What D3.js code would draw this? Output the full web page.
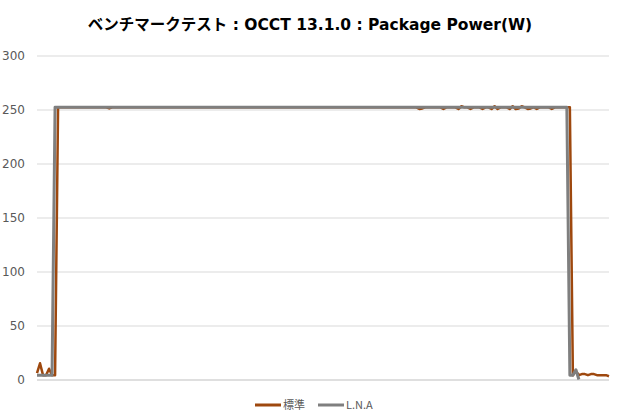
<!DOCTYPE html>
<html>
<head>
<meta charset="utf-8">
<script src="https://cdn.jsdelivr.net/npm/d3@7"></script>
<style>
  body { margin: 0; background: #fff; }
  svg { display: block; font-family: "Noto Sans CJK JP", "Noto Sans", sans-serif; }
</style>
</head>
<body>
<svg id="chart"></svg>
<script>
// values, one sample per category step
const standard = [
  6, 15, 4, 4, 10, 4, 4, 252, 252, 252,
  252, 252, 252, 252, 252, 252, 252, 252, 252, 252,
  252, 252, 252, 252, 251, 252, 252, 252, 252, 252,
  252, 252, 252, 252, 252, 252, 252, 252, 252, 252,
  252, 252, 252, 252, 252, 252, 252, 252, 252, 252,
  252, 252, 252, 252, 252, 252, 252, 252, 252, 252,
  252, 252, 252, 252, 252, 252, 252, 252, 252, 252,
  252, 252, 252, 252, 252, 252, 252, 252, 252, 252,
  252, 252, 252, 252, 252, 252, 252, 252, 252, 252,
  252, 252, 252, 252, 252, 252, 252, 252, 252, 252,
  252, 252, 252, 252, 252, 252, 252, 252, 252, 252,
  252, 252, 252, 252, 252, 252, 252, 252, 252, 252,
  252, 252, 252, 252, 252, 252, 252, 250.5, 251, 252,
  252, 252, 252, 252, 252, 250.5, 252, 252, 252, 252,
  250.5, 253, 252, 252, 250.5, 252, 252, 252, 250.5, 252,
  252, 250.5, 253, 250.5, 252, 252, 252, 250.5, 253, 250.5,
  251, 253, 252, 250.5, 251, 252, 250.5, 252, 252, 252,
  252, 250.5, 252, 252, 252, 252, 252, 252, 4, 8,
  4, 5, 5, 4, 5, 5, 4, 4, 4, 4, 3
];

const lna = [
  4, 4, 4, 4, 4, 4, 252, 252, 252, 252,
  252, 252, 252, 252, 252, 252, 252, 252, 252, 252,
  252, 252, 252, 252, 252, 252, 252, 252, 252, 252,
  252, 252, 252, 252, 252, 252, 252, 252, 252, 252,
  252, 252, 252, 252, 252, 252, 252, 252, 252, 252,
  252, 252, 252, 252, 252, 252, 252, 252, 252, 252,
  252, 252, 252, 252, 252, 252, 252, 252, 252, 252,
  252, 252, 252, 252, 252, 252, 252, 252, 252, 252,
  252, 252, 252, 252, 252, 252, 252, 252, 252, 252,
  252, 252, 252, 252, 252, 252, 252, 252, 252, 252,
  252, 252, 252, 252, 252, 252, 252, 252, 252, 252,
  252, 252, 252, 252, 252, 252, 252, 252, 252, 252,
  252, 252, 252, 252, 252, 252, 252, 252, 252, 252,
  252, 252, 252, 252, 252, 252, 252, 252, 252, 252,
  252, 252, 252, 252, 252, 252, 252, 252, 252, 252,
  252, 252, 252, 252, 252, 252, 252, 252, 252, 252,
  252, 252, 252, 252, 252, 252, 252, 252, 252, 252,
  252, 252, 252, 252, 252, 252, 252, 4, 4, 9,
  0
];

const seriesNames = ["標準", "L.N.A"];
const seriesColors = ["#9e480e", "#7f7f7f"];
const yTicks = [0, 50, 100, 150, 200, 250, 300];
const title = "ベンチマークテスト : OCCT 13.1.0 : Package Power(W)";

const width = 620;
const height = 419;
const margin = { top: 55.5, right: 11, bottom: 39.5, left: 37 };

const svg = d3.select("#chart").attr("width", width).attr("height", height);

const xScale = d3.scaleLinear()
  .domain([0, standard.length - 1])
  .range([margin.left, width - margin.right]);

const yScale = d3.scaleLinear()
  .domain([0, 300])
  .range([height - margin.bottom, margin.top]);

// title
svg.append("text")
  .attr("x", width / 2)
  .attr("y", 30)
  .attr("text-anchor", "middle")
  .attr("font-size", 15.5)
  .attr("font-weight", "bold")
  .attr("font-family", "'DejaVu Sans', 'Noto Sans CJK JP', sans-serif")
  .attr("fill", "#000")
  .text(title);

// gridlines + labels
const yAxis = svg.append("g")
  .attr("transform", `translate(${margin.left},0)`)
  .call(d3.axisLeft(yScale)
    .tickValues(yTicks)
    .tickSize(-(width - margin.left - margin.right))
    .tickPadding(12));

yAxis.select(".domain").remove();
yAxis.selectAll(".tick line")
  .attr("stroke", (d) => (d === 0 ? "#bfbfbf" : "#d9d9d9"))
  .attr("stroke-width", 1);
yAxis.selectAll(".tick text")
  .attr("fill", "#595959")
  .attr("font-size", 12)
  .attr("font-family", "'DejaVu Sans', sans-serif");

// lines
const line = d3.line()
  .x((d, i) => xScale(i))
  .y((d) => yScale(d));

[standard, lna].forEach((values, k) => {
  svg.append("path")
    .datum(values)
    .attr("fill", "none")
    .attr("stroke", seriesColors[k])
    .attr("stroke-width", k === 0 ? 2.5 : 3)
    .attr("stroke-linejoin", "round")
    .attr("d", line);
});

// legend
const legend = svg.append("g").attr("transform", "translate(0,405)");
const legendX = [255, 318];
seriesNames.forEach((name, k) => {
  legend.append("line")
    .attr("x1", legendX[k])
    .attr("x2", legendX[k] + 26)
    .attr("y1", 0)
    .attr("y2", 0)
    .attr("stroke", seriesColors[k])
    .attr("stroke-width", 3);
  legend.append("text")
    .attr("x", legendX[k] + 28)
    .attr("y", 4)
    .attr("font-size", 11)
    .attr("fill", "#595959")
    .text(name);
});
</script>
</body>
</html>
